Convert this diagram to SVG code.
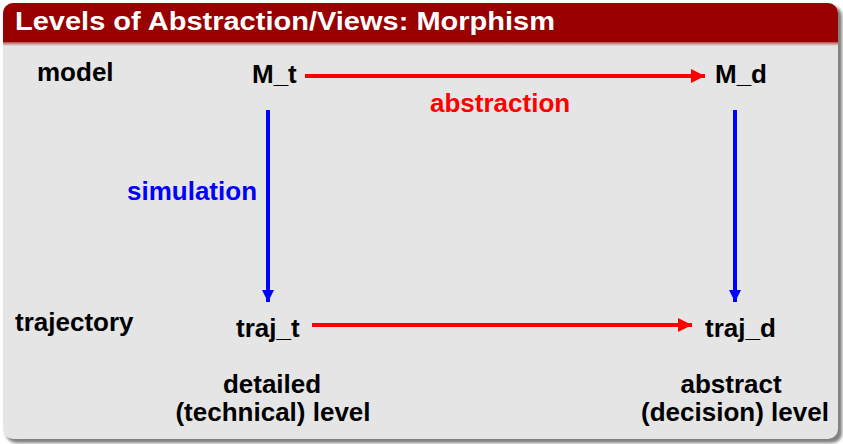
<svg xmlns="http://www.w3.org/2000/svg" width="843" height="444" viewBox="0 0 843 444">
<defs>
<style>
text{font-family:"Liberation Sans",Arial,sans-serif;font-weight:bold;font-size:26px;fill:#000}
.red{fill:#ff0000}.blue{fill:#0000ff}
.title{fill:#fff;font-size:25px}
.rl{stroke:#ff0000;stroke-width:4;fill:none}
.bl{stroke:#0000ff;stroke-width:4;fill:none}
</style>
<marker id="ar" viewBox="0 0 10 10" refX="10" refY="5" markerWidth="4.5" markerHeight="3.5" markerUnits="strokeWidth" orient="auto"><path d="M0,0L10,5L0,10z" fill="#ff0000"/></marker>
<marker id="ab" viewBox="0 0 10 10" refX="10" refY="5" markerWidth="4.5" markerHeight="3" markerUnits="strokeWidth" orient="auto"><path d="M0,0L10,5L0,10z" fill="#0000ff"/></marker>
<filter id="sh" x="-5%" y="-5%" width="110%" height="110%"><feGaussianBlur stdDeviation="1.5"/></filter>
<linearGradient id="hs" x1="0" y1="0" x2="0" y2="1"><stop offset="0" stop-color="#b05050"/><stop offset="1" stop-color="#e5e5e5"/></linearGradient>
</defs>
<rect x="6" y="6" width="836" height="437" rx="10" fill="#808080" filter="url(#sh)"/>
<rect x="3" y="3" width="835" height="436" rx="10" fill="#e5e5e5"/>
<rect x="3" y="42" width="835" height="4" fill="url(#hs)"/>
<path d="M3,42V13a10,10 0 0 1 10-10H828a10,10 0 0 1 10,10V42z" fill="#990000"/>
<text class="title" x="15" y="30" textLength="540" lengthAdjust="spacingAndGlyphs">Levels of Abstraction/Views: Morphism</text>
<g id="connectors">
<line class="rl" x1="305" y1="76" x2="705" y2="76" marker-end="url(#ar)"/>
<line class="rl" x1="312" y1="325" x2="692" y2="325" marker-end="url(#ar)"/>
<line class="bl" x1="268" y1="110" x2="268" y2="302" marker-end="url(#ab)"/>
<line class="bl" x1="735" y1="110" x2="735" y2="302" marker-end="url(#ab)"/>
</g>
<g id="label-model"><text x="37" y="81">model</text></g>
<g id="label-trajectory"><text x="15" y="331">trajectory</text></g>
<g id="node-Mt"><text x="252" y="83">M_t</text></g>
<g id="node-Md"><text x="715" y="83">M_d</text></g>
<g id="node-trajt"><text x="236" y="337">traj_t</text></g>
<g id="node-trajd"><text x="705" y="337">traj_d</text></g>
<g id="label-abstraction"><text class="red" x="430" y="112">abstraction</text></g>
<g id="label-simulation"><text class="blue" x="127" y="200">simulation</text></g>
<g id="label-detailed"><text x="272" y="393" text-anchor="middle">detailed</text><text x="273" y="421" text-anchor="middle">(technical) level</text></g>
<g id="label-abstract"><text x="731" y="393" text-anchor="middle">abstract</text><text x="735" y="421" text-anchor="middle">(decision) level</text></g>
</svg>
